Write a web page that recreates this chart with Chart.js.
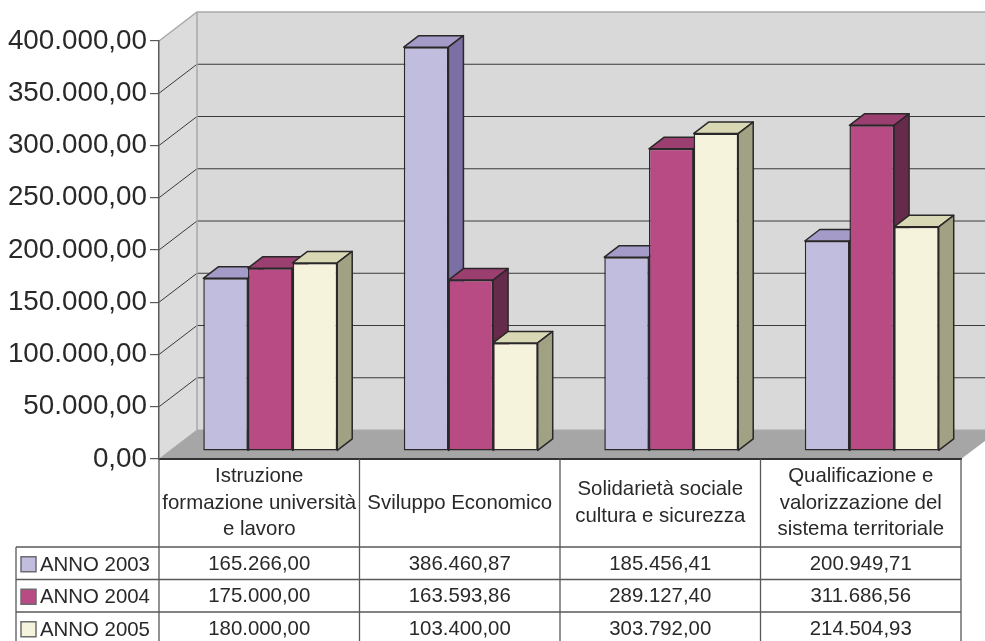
<!DOCTYPE html>
<html><head><meta charset="utf-8">
<style>html,body{margin:0;padding:0;background:#fff;overflow:hidden}#w{position:relative;width:985px;height:641px}</style>
<script src="https://cdn.jsdelivr.net/npm/chart.js@4"></script>
</head><body><div id="w"><canvas id="c" width="985" height="641"></canvas></div>
<script>
const categories=[["Istruzione","formazione università","e lavoro"],["Sviluppo Economico"],["Solidarietà sociale","cultura e sicurezza"],["Qualificazione e","valorizzazione del","sistema territoriale"]];
const seriesNames=["ANNO 2003","ANNO 2004","ANNO 2005"];
const anno2003=[165266.00,386460.87,185456.41,200949.71];
const anno2004=[175000.00,163593.86,289127.40,311686.56];
const anno2005=[180000.00,103400.00,303792.00,214504.93];
const frontColors=["#c1bddf","#b84a84","#f6f3dc"];
const topColors=["#a59bc8","#9a3f6f","#d9d8b4"];
const sideColors=["#7b6fa3","#662a4a","#a1a283"];
const FONT='"Liberation Sans",Arial,sans-serif', INK='#2b2829', LINE='#58595b';
const fmt=v=>{const [a,b]=Number(v).toFixed(2).split('.');return a.replace(/\B(?=(\d{3})+$)/g,'.')+','+b;};
const WALL={dx:38,dy:-29}, BAR={dx:11,dy:-8}, D={dx:15,dy:-11.5};
const poly=(ctx,pts,fill,stroke,lw)=>{ctx.beginPath();pts.forEach((p,i)=>i?ctx.lineTo(p[0],p[1]):ctx.moveTo(p[0],p[1]));ctx.closePath();
 if(fill){ctx.fillStyle=fill;ctx.fill();} if(stroke){ctx.strokeStyle=stroke;ctx.lineWidth=lw||1;ctx.lineJoin='round';ctx.stroke();}};
const plugin={id:'three',
 beforeDraw(ch){const {ctx,chartArea:a,scales:{y}}=ch,W=985;ctx.save();
  const bl=a.left+WALL.dx,bt=a.top+WALL.dy,bb=a.bottom+WALL.dy;
  poly(ctx,[[a.left,a.top],[bl,bt],[bl,bb],[a.left,a.bottom]],'#dcdcdc');
  poly(ctx,[[bl,bt],[W,bt],[W,bb],[bl,bb]],'#d9d9d9');
  poly(ctx,[[a.left,a.bottom],[bl,bb],[W,bb],[W,a.bottom-18],[a.right,a.bottom]],'#a6a6a6');
  y.ticks.forEach(t=>{const py=y.getPixelForValue(t.value);const top=t.value===y.max;const zero=t.value===0;
   ctx.strokeStyle=top||zero?'#a9a9a9':'#3a3a3a';ctx.lineWidth=top?1.5:1;
   ctx.beginPath();ctx.moveTo(a.left,py);ctx.lineTo(bl,py+WALL.dy);ctx.lineTo(W,py+WALL.dy);ctx.stroke();});
  ctx.strokeStyle='#a9a9a9';ctx.lineWidth=1.5;ctx.beginPath();ctx.moveTo(bl,bt);ctx.lineTo(bl,bb);ctx.stroke();
  ctx.restore();},
 beforeDatasetsDraw(ch){const ctx=ch.ctx;ctx.save();ctx.translate(BAR.dx,BAR.dy);
  ch.data.datasets.forEach((ds,i)=>{ch.getDatasetMeta(i).data.forEach(el=>{
    const l=el.x-el.width/2,r=el.x+el.width/2,t=el.y,b=el.base;
    poly(ctx,[[l,t],[l+D.dx,t+D.dy],[r+D.dx,t+D.dy],[r,t]],topColors[i],INK,1.5);
    poly(ctx,[[r,t],[r+D.dx,t+D.dy],[r+D.dx,b+D.dy],[r,b]],sideColors[i],INK,1.5);
    el.draw(ctx);});});
  ctx.restore();return false;},
 afterDraw(ch){const {ctx,chartArea:a,scales:{x}}=ch;ctx.save();
  const cols=[a.left];categories.forEach((c,i)=>cols.push(a.left+(a.right-a.left)*(i+1)/categories.length));
  const rows=[547,579.5,612],B=641;
  ctx.strokeStyle=LINE;ctx.lineWidth=1.3;ctx.beginPath();
  cols.forEach(cx=>{ctx.moveTo(cx,a.bottom);ctx.lineTo(cx,B);});
  ctx.moveTo(16,rows[0]);ctx.lineTo(16,B);
  rows.forEach(ry=>{ctx.moveTo(16,ry);ctx.lineTo(a.right,ry);});ctx.stroke();
  ctx.fillStyle=INK;ctx.textAlign='center';ctx.textBaseline='middle';
  ctx.font='20.4px '+FONT;
  categories.forEach((lines,i)=>{const cx=x.getPixelForTick(i);lines.forEach((s,k)=>ctx.fillText(s,cx,503+(k-(lines.length-1)/2)*26.3));});
  ch.data.datasets.forEach((ds,r)=>{const my=(r<2?(rows[r]+rows[r+1])/2:(rows[2]+32.5/2))+1;
    ds.data.forEach((v,i)=>{ctx.fillStyle=INK;ctx.textAlign='center';ctx.fillText(fmt(v),x.getPixelForTick(i),my);});
    ctx.fillStyle=frontColors[r];ctx.strokeStyle='#6d6b6f';ctx.lineWidth=1.5;ctx.fillRect(21,my-7.5,15,15);ctx.strokeRect(21,my-7.5,15,15);
    ctx.fillStyle=INK;ctx.textAlign='left';ctx.fillText(seriesNames[r],40,my+1);});
  ctx.restore();}
};
new Chart(document.getElementById('c'),{type:'bar',
 data:{labels:categories.map(c=>c.join(' ')),datasets:[
  {label:seriesNames[0],data:anno2003,backgroundColor:frontColors[0]},
  {label:seriesNames[1],data:anno2004,backgroundColor:frontColors[1]},
  {label:seriesNames[2],data:anno2005,backgroundColor:frontColors[2]}].map(d=>({...d,borderColor:INK,borderWidth:1.5,borderSkipped:false,categoryPercentage:0.668,barPercentage:1}))},
 options:{responsive:false,animation:false,events:[],
  layout:{padding:{top:41,right:24,left:0,bottom:0}},
  plugins:{legend:{display:false},tooltip:{enabled:false}},
  scales:{
   x:{grid:{display:false},ticks:{display:false},border:{color:'#333',width:2},
      afterFit(s){s.height=182;s.paddingLeft=0;s.paddingRight=0;}},
   y:{min:0,max:400000,afterFit(s){s.width=159;s.paddingTop=0;s.paddingBottom=0;},
      grid:{drawOnChartArea:false,tickLength:9,tickColor:LINE,lineWidth:1.2},border:{color:LINE,width:1.5},
      ticks:{stepSize:50000,padding:3,color:INK,font:{family:FONT,size:27.8},callback:v=>fmt(v)}}
  }},
 plugins:[plugin]});
</script></body></html>
